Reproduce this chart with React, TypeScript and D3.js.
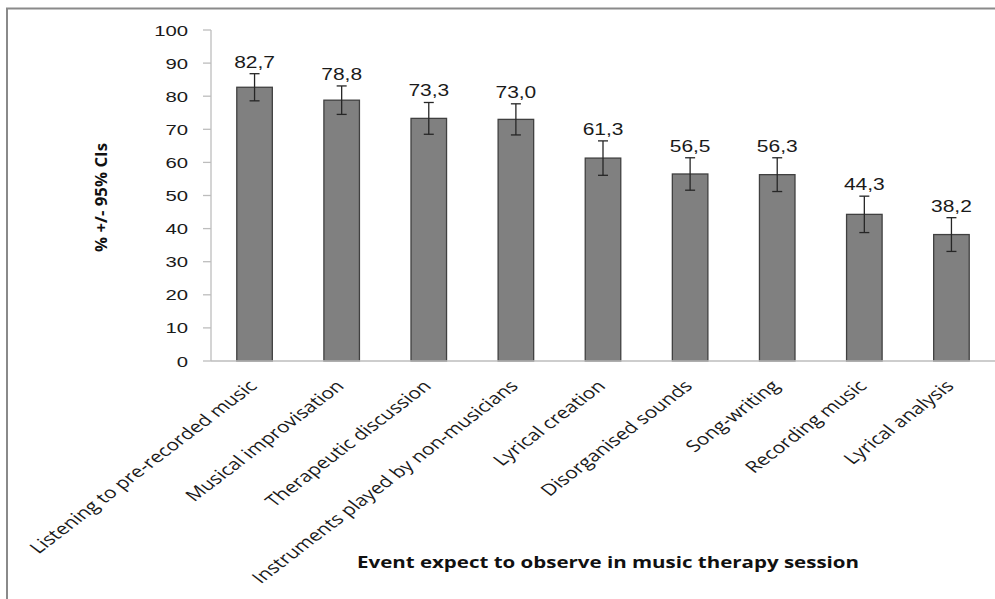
import React from "react";
import * as d3 from "d3";

// Share of respondents expecting each event, with 95% confidence half-widths
const categories = [
  "Listening to pre-recorded music",
  "Musical improvisation",
  "Therapeutic discussion",
  "Instruments played by non-musicians",
  "Lyrical creation",
  "Disorganised sounds",
  "Song-writing",
  "Recording music",
  "Lyrical analysis",
];
const percentages = [82.7, 78.8, 73.3, 73.0, 61.3, 56.5, 56.3, 44.3, 38.2];
const ciHalfWidths = [4.1, 4.3, 4.8, 4.7, 5.2, 4.9, 5.1, 5.5, 5.1];
const yTickValues = [0, 10, 20, 30, 40, 50, 60, 70, 80, 90, 100];

const yAxisTitle = "% +/- 95% CIs";
const xAxisTitle = "Event expect to observe in music therapy session";

const W = 995;
const H = 599;
const plot = { left: 211, right: 995, top: 30, bottom: 361 };
const SX = 1.31; // horizontal glyph stretch

const formatValue = (v: number) => d3.format(".1f")(v).replace(".", ",");

export default function App() {
  const x = d3
    .scaleBand<string>()
    .domain(categories)
    .range([plot.left, plot.right])
    .paddingInner(0.592)
    .paddingOuter(0.296);
  const y = d3.scaleLinear().domain([0, 100]).range([plot.bottom, plot.top]);
  const bw = x.bandwidth();
  const capHalf = 5;

  return (
    <svg
      width={W}
      height={H}
      style={{ position: "absolute", left: 0, top: 0, background: "#fff" }}
    >
      <rect x={7} y={8.5} width={1100} height={800} fill="#fff" stroke="#8a8a8a" strokeWidth={2} />

      {/* y axis */}
      <line x1={plot.left} x2={plot.left} y1={plot.top} y2={plot.bottom} stroke="#bdbdbd" strokeWidth={1.3} />
      {yTickValues.map((t) => (
        <g key={t}>
          <line x1={plot.left - 8} x2={plot.left} y1={y(t)} y2={y(t)} stroke="#bdbdbd" strokeWidth={1.3} />
          <text
            transform={`translate(188,${y(t)}) scale(${SX},1)`}
            dy="0.36em"
            textAnchor="end"
            fontFamily="Liberation Sans, Arial, sans-serif"
            fontSize={15.5}
            fill="#1a1a1a"
          >
            {t}
          </text>
        </g>
      ))}

      {/* bars */}
      {categories.map((c, i) => {
        const v = percentages[i];
        const x0 = x(c)!;
        const cx = x0 + bw / 2;
        const hi = y(v + ciHalfWidths[i]);
        const lo = y(v - ciHalfWidths[i]);
        return (
          <g key={c}>
            <rect
              x={x0}
              y={y(v)}
              width={bw}
              height={y(0) - y(v)}
              fill="#808080"
              stroke="#404040"
              strokeWidth={1.3}
            />
            <g stroke="#262626" strokeWidth={1.3}>
              <line x1={cx} x2={cx} y1={hi} y2={lo} />
              <line x1={cx - capHalf} x2={cx + capHalf} y1={hi} y2={hi} />
              <line x1={cx - capHalf} x2={cx + capHalf} y1={lo} y2={lo} />
            </g>
            <text
              transform={`translate(${cx},${hi - 6}) scale(${SX},1)`}
              textAnchor="middle"
              fontFamily="Liberation Sans, Arial, sans-serif"
              fontSize={16}
              fill="#1a1a1a"
            >
              {formatValue(v)}
            </text>
            <text
              transform={`translate(${cx + 3.5},387) scale(${SX},1) rotate(-45)`}
              textAnchor="end"
              fontFamily="Open Sans, Noto Sans, sans-serif"
              fontSize={16}
              fill="#1a1a1a"
            >
              {c}
            </text>
          </g>
        );
      })}

      {/* x axis baseline */}
      <line x1={plot.left} x2={plot.right} y1={plot.bottom} y2={plot.bottom} stroke="#bdbdbd" strokeWidth={1.5} />

      {/* axis titles */}
      <text
        transform="translate(107,197.5) rotate(-90)"
        textAnchor="middle"
        fontFamily="Open Sans, Noto Sans, sans-serif"
        fontWeight="bold"
        fontSize={16}
        textLength={109}
        lengthAdjust="spacingAndGlyphs"
        fill="#111"
      >
        {yAxisTitle}
      </text>
      <text
        x={608}
        y={568}
        textAnchor="middle"
        fontFamily="Open Sans, Noto Sans, sans-serif"
        fontWeight="bold"
        fontSize={16.5}
        textLength={502}
        lengthAdjust="spacingAndGlyphs"
        fill="#111"
      >
        {xAxisTitle}
      </text>
    </svg>
  );
}
